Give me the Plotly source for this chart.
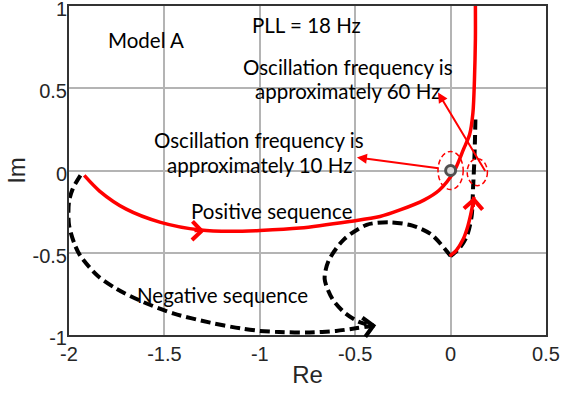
import plotly.graph_objects as go

# Positive-sequence locus, main branch (Re, Im)
pos_main_re = [-1.92, -1.84, -1.70, -1.52, -1.31, -1.15, -1.00, -0.79, -0.53, -0.37, -0.265, -0.14, -0.06, 0.016, 0.068, 0.10, 0.117, 0.125, 0.13, 0.13]
pos_main_im = [-0.03, -0.125, -0.235, -0.315, -0.362, -0.37, -0.365, -0.35, -0.31, -0.28, -0.24, -0.18, -0.12, -0.01, 0.13, 0.22, 0.35, 0.55, 0.8, 1.0]

# Positive-sequence locus, lower branch
pos_low_re = [-0.005, 0.03, 0.065, 0.09, 0.105, 0.117, 0.122]
pos_low_im = [-0.52, -0.485, -0.42, -0.34, -0.27, -0.2, -0.16]

# Negative-sequence locus, outer sweep
neg_outer_re = [-1.94, -1.98, -2.0, -2.0, -1.97, -1.94, -1.85, -1.75, -1.61, -1.45, -1.26, -1.10, -1.0, -0.9, -0.74, -0.6, -0.49, -0.40]
neg_outer_im = [-0.03, -0.11, -0.19, -0.33, -0.45, -0.52, -0.64, -0.72, -0.80, -0.87, -0.925, -0.96, -0.975, -0.982, -0.985, -0.975, -0.958, -0.942]

# Negative-sequence locus, rising branch near the imaginary axis
neg_rise_re = [0.13, 0.128, 0.124, 0.118, 0.11, 0.085, 0.045, 0.0]
neg_rise_im = [0.31, 0.2, 0.05, -0.1, -0.28, -0.40, -0.475, -0.52]

# Negative-sequence locus, inner loop
neg_loop_re = [0.0, -0.1, -0.2, -0.32, -0.44, -0.56, -0.64, -0.66, -0.62, -0.56, -0.49, -0.44]
neg_loop_im = [-0.52, -0.39, -0.335, -0.315, -0.33, -0.42, -0.55, -0.66, -0.78, -0.86, -0.915, -0.935]

x_ticks = [-2, -1.5, -1, -0.5, 0, 0.5]
x_tick_text = ["-2", "-1.5", "-1", "-0.5", "0", "0.5"]
y_ticks = [-1, -0.5, 0, 0.5, 1]
y_tick_text = ["-1", "-0.5", "0", "0.5", "1"]

RED = "#ff0000"
BLACK = "#000000"
TXT_FONT = "Lato, Open Sans, sans-serif"
AX_FONT = "Liberation Sans, Arial, sans-serif"
DASH = "10px,5px"

fig = go.Figure()

for xs, ys in [(neg_outer_re, neg_outer_im), (neg_rise_re, neg_rise_im), (neg_loop_re, neg_loop_im)]:
    fig.add_trace(go.Scatter(x=xs, y=ys, mode="lines",
                             line=dict(color=BLACK, width=4, dash=DASH, shape="spline", smoothing=0.8),
                             hoverinfo="skip", showlegend=False))

for xs, ys in [(pos_main_re, pos_main_im), (pos_low_re, pos_low_im)]:
    fig.add_trace(go.Scatter(x=xs, y=ys, mode="lines",
                             line=dict(color=RED, width=3.5, shape="spline", smoothing=0.8),
                             hoverinfo="skip", showlegend=False))

# dashed highlight rings around the two oscillation points
fig.add_shape(type="circle", xref="x", yref="y", x0=-0.066, x1=0.066, y0=-0.116, y1=0.116,
              line=dict(color=RED, width=1.5, dash="5px,3px"))
fig.add_shape(type="circle", xref="x", yref="y", x0=0.087, x1=0.193, y0=-0.092, y1=0.072,
              line=dict(color=RED, width=1.5, dash="5px,3px"))

# critical point marker
fig.add_trace(go.Scatter(x=[0], y=[0], mode="markers",
                         marker=dict(symbol="circle", size=10, color="#d9d9d9",
                                     line=dict(color="#505050", width=3)),
                         hoverinfo="skip", showlegend=False))

annotations = []

def label(text, x, y, size=20.5):
    annotations.append(dict(text=text, x=x, y=y, xref="x", yref="y", showarrow=False,
                            font=dict(family=TXT_FONT, size=size, color="#000000"),
                            xanchor="center", yanchor="middle"))

label("PLL = 18 Hz", -0.753, 0.885)
label("Model A", -1.596, 0.795)
label("Oscillation frequency is", -0.538, 0.632)
label("approximately 60 Hz", -0.543, 0.486)
label("Oscillation frequency is", -1.004, 0.188)
label("approximately 10 Hz", -0.999, 0.036)
label("Positive sequence", -0.936, -0.249)
label("Negative sequence", -1.198, -0.754)

def arrow(x, y, ax, ay, color, width, head, size=1.0):
    annotations.append(dict(text="", x=x, y=y, ax=ax, ay=ay, xref="x", yref="y",
                            axref="x", ayref="y", showarrow=True, arrowhead=head,
                            arrowsize=size, arrowwidth=width, arrowcolor=color))

# pointer arrows from the rings to their captions
arrow(-0.491, 0.079, -0.056, 0.012, RED, 2, 2, 1.0)
arrow(-0.066, 0.474, 0.186, -0.012, RED, 2, 2, 1.0)

# direction chevrons along the loci
arrow(-1.29, -0.368, -1.35, -0.366, RED, 3, 4, 1.2)
arrow(0.123, -0.16, 0.119, -0.23, RED, 3, 4, 1.2)
arrow(-0.39, -0.941, -0.45, -0.952, BLACK, 3.5, 4, 1.05)

axis_common = dict(showgrid=True, gridcolor="#b4b4b4", gridwidth=1.5,
                   zeroline=False, showline=True, mirror=True, linecolor="#333333", linewidth=2,
                   ticks="", ticklabeloverflow="allow", automargin=False,
                   tickfont=dict(family=AX_FONT, size=20, color="#262626"))

fig.update_layout(
    width=565, height=394,
    margin=dict(l=69, r=19, t=6, b=59),
    paper_bgcolor="white", plot_bgcolor="white",
    annotations=annotations,
    xaxis=dict(range=[-2, 0.5], tickvals=x_ticks, ticktext=x_tick_text,
               title=dict(text="Re", font=dict(family=AX_FONT, size=24, color="#262626"), standoff=2),
               **axis_common),
    yaxis=dict(range=[-1, 1], tickvals=y_ticks, ticktext=y_tick_text,
               ticklabelstandoff=-4, ticklabelshift=3,
               title=dict(text="Im", font=dict(family=AX_FONT, size=24, color="#262626"), standoff=0),
               **axis_common),
)

fig.write_html("out.html")
